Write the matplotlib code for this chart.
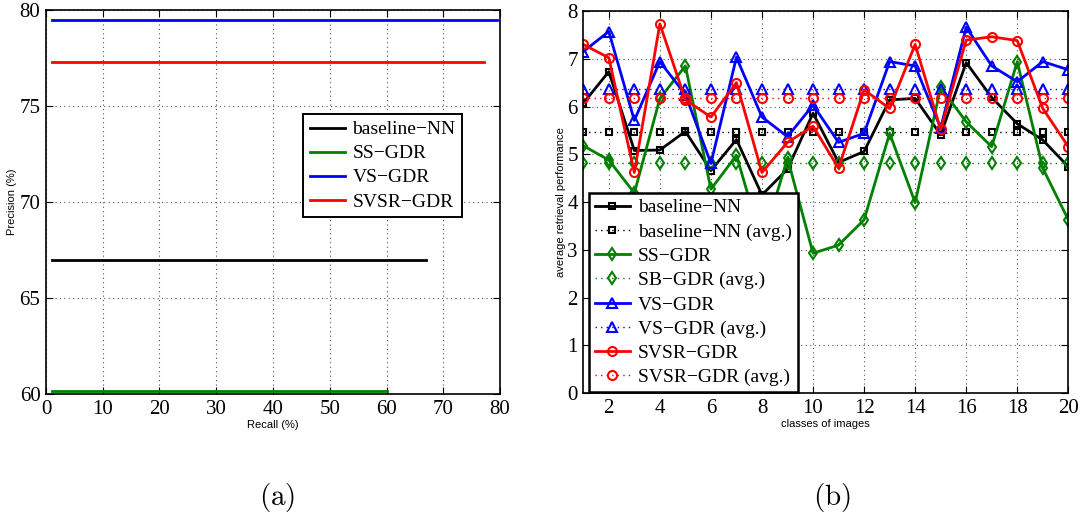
import numpy as np
import matplotlib
matplotlib.use("Agg")
import matplotlib.pyplot as plt

plt.rcParams["mathtext.fontset"] = "cm"

# ---- data -------------------------------------------------------------
methods = ["baseline\u2212NN", "SS\u2212GDR", "VS\u2212GDR", "SVSR\u2212GDR"]
avg_labels = ["baseline\u2212NN (avg.)", "SB\u2212GDR (avg.)",
              "VS\u2212GDR (avg.)", "SVSR\u2212GDR (avg.)"]
colors = ["black", "#008000", "#0000ff", "#ff0000"]
markers = ["s", "d", "^", "o"]
marker_sizes = [5, 6, 7, 6.5]

# (a) precision / recall
recall_start = 1.0
recall_end = [66.9, 60.1, 79.4, 77.2]
precision = [67.0, 60.15, 79.5, 77.3]

# (b) per-class retrieval performance
classes = list(range(1, 21))
baseline_nn = [6.07, 6.73, 5.08, 5.09, 5.48, 4.66, 5.31, 4.15, 4.69, 5.86,
               4.83, 5.06, 6.14, 6.17, 5.41, 6.92, 6.19, 5.64, 5.30, 4.74]
ss_gdr = [5.18, 4.88, 4.19, 6.17, 6.85, 4.27, 4.98, 3.15, 4.92, 2.93,
          3.10, 3.63, 5.44, 3.99, 6.40, 5.68, 5.16, 6.94, 4.71, 3.63]
vs_gdr = [7.15, 7.57, 5.71, 6.94, 6.25, 4.81, 7.03, 5.78, 5.37, 6.03,
          5.25, 5.44, 6.94, 6.85, 5.55, 7.66, 6.85, 6.52, 6.94, 6.77]
svsr_gdr = [7.30, 7.02, 4.62, 7.73, 6.14, 5.78, 6.50, 4.62, 5.25, 5.59,
            4.71, 6.35, 5.96, 7.30, 5.52, 7.39, 7.46, 7.38, 5.96, 5.16]
series = [baseline_nn, ss_gdr, vs_gdr, svsr_gdr]

# ---- styling ----------------------------------------------------------
serif = "Liberation Serif"
sans = "Liberation Sans"
tick_fs = 15
leg_fs = 14

fig = plt.figure(figsize=(10.87, 5.22), dpi=100)
axa = fig.add_axes([0.0423, 0.2452, 0.4177, 0.7358])
axb = fig.add_axes([0.5366, 0.2466, 0.4462, 0.7324])


def matlab_style(ax):
    ax.grid(True, linestyle=(0, (1, 3)), color="#555555", linewidth=0.8)
    ax.tick_params(direction="in", top=True, right=True, length=5,
                   width=0.8, labelsize=tick_fs, pad=4)
    for lab in ax.get_xticklabels() + ax.get_yticklabels():
        lab.set_fontfamily(serif)
    for sp in ax.spines.values():
        sp.set_linewidth(1.2)


# ---- (a) --------------------------------------------------------------
for name, c, p, r in zip(methods, colors, precision, recall_end):
    axa.plot([recall_start, r], [p, p], color=c, linewidth=2, label=name)
axa.set_xlim(0, 80)
axa.set_ylim(60, 80)
axa.set_xticks(np.arange(0, 81, 10))
axa.set_yticks(np.arange(60, 81, 5))
matlab_style(axa)
axa.set_xlabel("Recall (%)", fontsize=8, fontfamily=sans, labelpad=1)
axa.set_ylabel("Precision (%)", fontsize=8, fontfamily=sans, labelpad=2)
leg = axa.legend(loc="upper left", bbox_to_anchor=(0.566, 0.729),
                 borderaxespad=0, prop={"family": serif, "size": leg_fs},
                 fancybox=False, edgecolor="black", framealpha=1,
                 handlelength=1.8, handletextpad=0.4, labelspacing=0.33,
                 borderpad=0.35)
leg.get_frame().set_linewidth(1.4)

# ---- (b) --------------------------------------------------------------
handles = []
for name, aname, c, m, ms, vals in zip(methods, avg_labels, colors, markers,
                                       marker_sizes, series):
    h, = axb.plot(classes, vals, color=c, linewidth=2, marker=m,
                  markersize=ms, markerfacecolor="none", markeredgewidth=1.5,
                  label=name)
    mean = float(np.mean(vals))
    ha, = axb.plot(classes, [mean] * len(classes), color=c, linewidth=1,
                   linestyle=(0, (1, 3)), marker=m, markersize=ms,
                   markerfacecolor="none", markeredgewidth=1.5, label=aname)
    handles += [h, ha]
axb.set_xlim(1, 20)
axb.set_ylim(0, 8)
axb.set_xticks(np.arange(2, 21, 2))
axb.set_yticks(np.arange(0, 9, 1))
matlab_style(axb)
axb.set_xlabel("classes of images", fontsize=8, fontfamily=sans, labelpad=1)
axb.set_ylabel("average retrieval performance", fontsize=8, fontfamily=sans,
               labelpad=1)
legb = axb.legend(handles=handles, loc="lower left",
                  bbox_to_anchor=(0.012, 0.003), borderaxespad=0,
                  prop={"family": serif, "size": leg_fs}, fancybox=False,
                  edgecolor="black", framealpha=1, handlelength=1.8,
                  handletextpad=0.4, labelspacing=0.34, borderpad=0.3)
legb.get_frame().set_linewidth(1.8)

# ---- captions ---------------------------------------------------------
fig.text(277 / 1087, 1 - 497 / 522, r"$\mathrm{(a)}$", fontsize=21,
         ha="center", va="center")
fig.text(832 / 1087, 1 - 497 / 522, r"$\mathrm{(b)}$", fontsize=21,
         ha="center", va="center")

fig.savefig("out.png", dpi=100)
